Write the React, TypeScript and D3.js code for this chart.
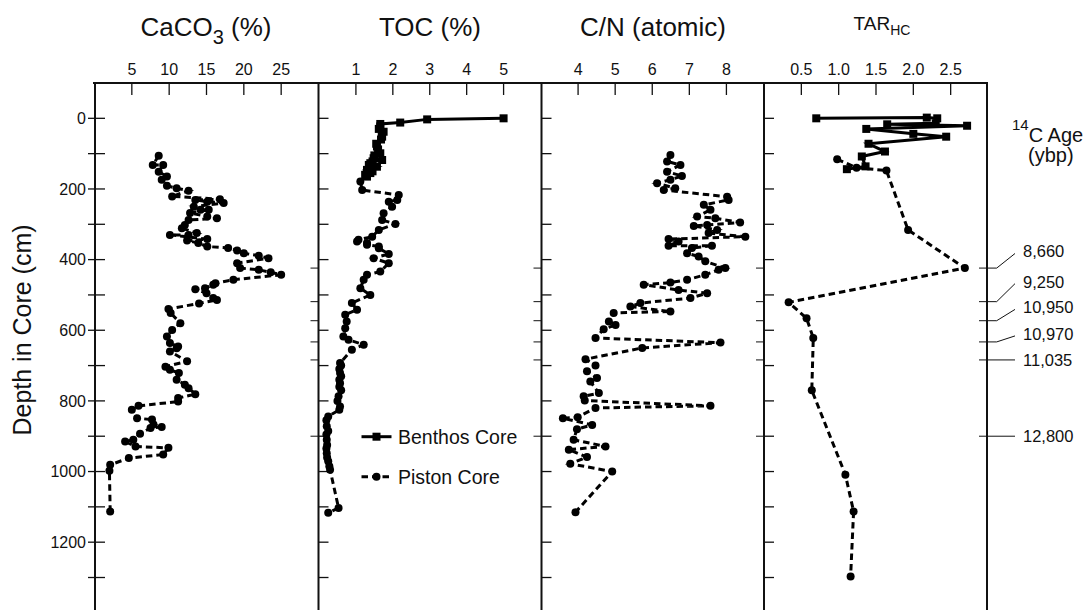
import React from 'react';
import * as d3 from 'd3';

// ---------- tick labels ----------
const depthTicks = [0, 100, 200, 300, 400, 500, 600, 700, 800, 900, 1000, 1100, 1200, 1300];
const depthLabels = [0, 200, 400, 600, 800, 1000, 1200];
const cacoTicks = [5, 10, 15, 20, 25];
const tocTicks = [1, 2, 3, 4, 5];
const cnTicks = [4, 5, 6, 7, 8];
const tarTicks = [0.5, 1.0, 1.5, 2.0, 2.5];

// ---------- 14C ages ----------
const ageDepths = [424, 519, 573, 633, 684, 900];
const ageLabels = ['8,660', '9,250', '10,950', '10,970', '11,035', '12,800'];

// ---------- data: [depth cm, value] ----------
const cacoPiston: [number, number][] = [
  [106, 8.6], [132, 7.8], [132, 9.2], [151, 8.6], [165, 9.7], [174, 9.0], [191, 9.7], [198, 11.0],
  [205, 12.6], [221, 10.4], [229, 16.8], [231, 13.5], [236, 15.1], [240, 17.3], [250, 13.3], [259, 14.2],
  [259, 15.3], [268, 12.8], [278, 15.1], [283, 16.4], [288, 12.6], [302, 12.1], [311, 11.7], [325, 13.7],
  [330, 12.6], [330, 10.1], [342, 15.1], [346, 12.4], [353, 13.9], [363, 15.1], [367, 17.9], [374, 19.1],
  [382, 20.0], [389, 22.0], [396, 23.3], [410, 19.1], [424, 19.5], [429, 22.0], [436, 23.6], [443, 25.0],
  [457, 18.6], [467, 16.2], [471, 15.9], [481, 14.8], [484, 13.5], [495, 15.0], [509, 15.9], [514, 16.4],
  [524, 14.0], [540, 9.9], [551, 10.2], [580, 11.5], [599, 10.4], [618, 9.7], [636, 10.1], [646, 11.2],
  [651, 11.0], [660, 10.1], [688, 12.4], [703, 9.5], [712, 10.1], [721, 11.3], [740, 11.0], [754, 12.1],
  [764, 12.6], [781, 13.5], [792, 11.2], [802, 11.2], [814, 5.9], [825, 5.0], [849, 5.7], [853, 7.7],
  [867, 7.9], [874, 9.0], [877, 7.5], [893, 6.1], [910, 5.2], [915, 4.1], [929, 5.5], [933, 9.9],
  [952, 9.2], [962, 4.6], [981, 2.1], [998, 2.0], [1113, 2.1],
];

const tocBenthos: [number, number][] = [
  [0, 5.0], [3, 2.93], [12, 2.2], [16, 1.66], [23, 1.66], [30, 1.62], [38, 1.75], [45, 1.7], [52, 1.71],
  [60, 1.68], [72, 1.55], [80, 1.57], [88, 1.6], [99, 1.66], [105, 1.5], [113, 1.48], [118, 1.71],
  [122, 1.45], [127, 1.39], [132, 1.35], [137, 1.57], [146, 1.30], [150, 1.45], [155, 1.39], [160, 1.25],
  [165, 1.30],
];

const tocPiston: [number, number][] = [
  [179, 1.12], [203, 1.17], [217, 2.16], [231, 2.12], [236, 1.89], [250, 1.98], [269, 1.75], [288, 1.71],
  [299, 2.07], [316, 1.62], [335, 1.44], [344, 1.07], [349, 1.03], [353, 1.30], [358, 1.30], [363, 1.62],
  [368, 1.62], [384, 1.89], [396, 1.48], [410, 1.89], [434, 1.66], [443, 1.30], [457, 1.21], [481, 1.12],
  [500, 1.39], [523, 0.89], [542, 1.03], [556, 0.71], [575, 0.75], [594, 0.71], [618, 0.66], [627, 0.80],
  [641, 1.21], [655, 0.89], [693, 0.57], [700, 0.6], [710, 0.55], [721, 0.57], [730, 0.6], [740, 0.55],
  [750, 0.57], [760, 0.55], [770, 0.6], [787, 0.53], [800, 0.5], [816, 0.57], [825, 0.55], [844, 0.25],
  [855, 0.2], [872, 0.21], [885, 0.25], [895, 0.2], [910, 0.21], [925, 0.22], [935, 0.2], [948, 0.21],
  [960, 0.22], [971, 0.25], [985, 0.28], [995, 0.30], [1103, 0.53], [1117, 0.25],
];

const cnPiston: [number, number][] = [
  [104, 6.49], [122, 6.40], [132, 6.76], [151, 6.40], [163, 6.80], [174, 6.49], [184, 6.13], [198, 6.62],
  [203, 6.31], [222, 8.02], [231, 8.06], [245, 7.39], [259, 7.57], [278, 7.21], [283, 7.70], [295, 8.37],
  [302, 7.48], [305, 7.12], [316, 7.75], [325, 7.52], [335, 8.51], [342, 6.44], [349, 6.71], [361, 6.44],
  [361, 7.61], [367, 7.07], [382, 6.94], [391, 7.25], [405, 7.43], [424, 7.97], [429, 7.79], [443, 7.43],
  [457, 6.94], [465, 6.49], [471, 5.77], [486, 6.71], [495, 7.48], [509, 7.03], [523, 5.68], [533, 5.41],
  [547, 6.49], [551, 4.96], [575, 4.83], [585, 5.01], [597, 4.69], [622, 4.47], [635, 7.84], [650, 5.73],
  [682, 4.20], [700, 4.47], [716, 4.24], [735, 4.51], [745, 4.33], [778, 4.56], [787, 4.15], [799, 4.18],
  [814, 7.57], [820, 4.47], [846, 3.99], [849, 3.59], [868, 4.38], [880, 3.97], [910, 3.88], [929, 4.74],
  [938, 3.75], [959, 4.24], [978, 3.79], [1000, 4.92], [1115, 3.93],
];

const tarBenthos: [number, number][] = [
  [0, 0.70], [-2, 2.18], [0, 2.32], [14, 2.30], [17, 1.65], [21, 2.72], [30, 1.37], [44, 2.0],
  [52, 2.44], [72, 1.40], [94, 1.62], [108, 1.31], [136, 1.36], [144, 1.11],
];

const tarPiston: [number, number][] = [
  [116, 0.98], [140, 1.24], [148, 1.64], [316, 1.93], [424, 2.69], [521, 0.33], [566, 0.57],
  [622, 0.66], [770, 0.64], [1009, 1.09], [1113, 1.20], [1297, 1.16],
];

// ---------- layout ----------
const W = 1089;
const H = 610;
const TOP = 83;
const FONT = '"Liberation Sans", Arial, Helvetica, sans-serif';
const ageLabelOffsets = [-16.6, -20, -13.3, -8, 0, 0];
const R = 4;
const S = 8;

export default function App() {
  const y = d3.scaleLinear().domain([-100, 1392]).range([TOP, H]);

  const panels = [
    { left: 95, right: 318.5, x: d3.scaleLinear().domain([0, 30]).range([94.5, 318.5]), ticks: cacoTicks, fmt: (v: number) => String(v), piston: cacoPiston, benthos: null as null | [number, number][] },
    { left: 318.5, right: 541.5, x: d3.scaleLinear().domain([0, 6]).range([319, 540.5]), ticks: tocTicks, fmt: (v: number) => String(v), piston: tocPiston, benthos: tocBenthos },
    { left: 541.5, right: 764, x: d3.scaleLinear().domain([3, 9]).range([541, 763.5]), ticks: cnTicks, fmt: (v: number) => String(v), piston: cnPiston, benthos: null },
    { left: 764, right: 987, x: d3.scaleLinear().domain([0, 3]).range([764, 988]), ticks: tarTicks, fmt: (v: number) => v.toFixed(1), piston: tarPiston, benthos: tarBenthos },
  ];

  const lineFor = (x: d3.ScaleLinear<number, number>) =>
    d3.line<[number, number]>().x((d) => x(d[1])).y((d) => y(d[0]));

  return (
    <svg width={W} height={H} style={{ position: 'absolute', left: 0, top: 0, background: '#fff' }} fontFamily={FONT}>
      <rect x={0} y={0} width={W} height={H} fill="#fff" />

      {/* titles */}
      <text x={206} y={36} textAnchor="middle" fontSize={26} fill="#111">
        CaCO<tspan fontSize={20} dy={8}>3</tspan><tspan dy={-8}> (%)</tspan>
      </text>
      <text x={430} y={36} textAnchor="middle" fontSize={26} fill="#111">TOC (%)</text>
      <text x={653} y={36} textAnchor="middle" fontSize={26} fill="#111">C/N (atomic)</text>
      <text x={882} y={30} textAnchor="middle" fontSize={19} fill="#111">
        TAR<tspan fontSize={14} dy={5}>HC</tspan>
      </text>

      {/* frame */}
      <line x1={93} x2={988} y1={TOP} y2={TOP} stroke="#111" strokeWidth={2} />
      {panels.map((p, i) => (
        <line key={'fl' + i} x1={p.left} x2={p.left} y1={TOP} y2={H} stroke="#111" strokeWidth={2} />
      ))}
      <line x1={987} x2={987} y1={TOP} y2={H} stroke="#111" strokeWidth={2} />

      {/* top x ticks and labels */}
      {panels.map((p, i) => (
        <g key={'xt' + i}>
          {p.ticks.map((t) => (
            <g key={t}>
              <line x1={p.x(t)} x2={p.x(t)} y1={TOP} y2={TOP + 12} stroke="#111" strokeWidth={1.3} />
              <text x={p.x(t)} y={75} textAnchor="middle" fontSize={16} fill="#111">{p.fmt(t)}</text>
            </g>
          ))}
        </g>
      ))}

      {/* depth ticks inside each panel's left frame */}
      {panels.map((p, i) => (
        <g key={'yt' + i}>
          {depthTicks.map((d) => (
            <line key={d} x1={i === 0 ? 88 : p.left} x2={p.left + 10} y1={y(d)} y2={y(d)} stroke="#111" strokeWidth={1.3} />
          ))}
        </g>
      ))}
      {depthLabels.map((d) => (
        <text key={d} x={86} y={y(d)} dy="0.36em" textAnchor="end" fontSize={16} fill="#111">{d}</text>
      ))}
      <text transform={`translate(31,330) rotate(-90)`} textAnchor="middle" fontSize={25} fill="#111">Depth in Core (cm)</text>

      {/* age ticks on each panel's right edge */}
      {panels.map((p, i) => (
        <g key={'at' + i}>
          {ageDepths.map((d, j) => (
            <line key={j} x1={p.right - 8} x2={i === 3 ? (ageLabelOffsets[j] === 0 ? 1015 : 996.7) : p.right} y1={y(d)} y2={y(d)} stroke="#111" strokeWidth={1} />
          ))}
        </g>
      ))}
      {ageDepths.map((d, j) => (
        <g key={'al' + j}>
          {ageLabelOffsets[j] !== 0 && (
            <line x1={996.7} y1={y(d)} x2={1015} y2={y(d) + ageLabelOffsets[j] + 2} stroke="#111" strokeWidth={1} />
          )}
          <text x={1023} y={y(d) + ageLabelOffsets[j]} dy="0.36em" fontSize={16.5} fill="#111">{ageLabels[j]}</text>
        </g>
      ))}
      <text x={1012} y={142} fontSize={20} fill="#111">
        <tspan fontSize={15} dy={-12}>14</tspan><tspan dy={12}>C Age</tspan>
      </text>
      <text x={1028} y={162} fontSize={20} fill="#111">(ybp)</text>

      {/* data */}
      {panels.map((p, i) => {
        const lg = lineFor(p.x);
        return (
          <g key={'d' + i}>
            <path d={lg(p.piston) || ''} fill="none" stroke="#000" strokeWidth={3} strokeDasharray="6.5 4" />
            {p.piston.map((d, k) => (
              <circle key={'c' + k} cx={p.x(d[1])} cy={y(d[0])} r={R} fill="#000" />
            ))}
            {p.benthos && (
              <>
                <path d={lg(p.benthos) || ''} fill="none" stroke="#000" strokeWidth={3} />
                {p.benthos.map((d, k) => (
                  <rect key={'s' + k} x={p.x(d[1]) - S / 2} y={y(d[0]) - S / 2} width={S} height={S} fill="#000" />
                ))}
              </>
            )}
          </g>
        );
      })}

      {/* legend */}
      <line x1={361.5} x2={391.5} y1={436.7} y2={436.7} stroke="#000" strokeWidth={3} />
      <rect x={376.5 - S / 2} y={436.7 - S / 2} width={S} height={S} fill="#000" />
      <text x={398} y={443.5} fontSize={19.5} fill="#111">Benthos Core</text>
      <line x1={361.5} x2={391.5} y1={476.7} y2={476.7} stroke="#000" strokeWidth={3} strokeDasharray="6.5 4" />
      <circle cx={376.5} cy={476.7} r={R} fill="#000" />
      <text x={398} y={483.5} fontSize={19.5} fill="#111">Piston Core</text>
    </svg>
  );
}
